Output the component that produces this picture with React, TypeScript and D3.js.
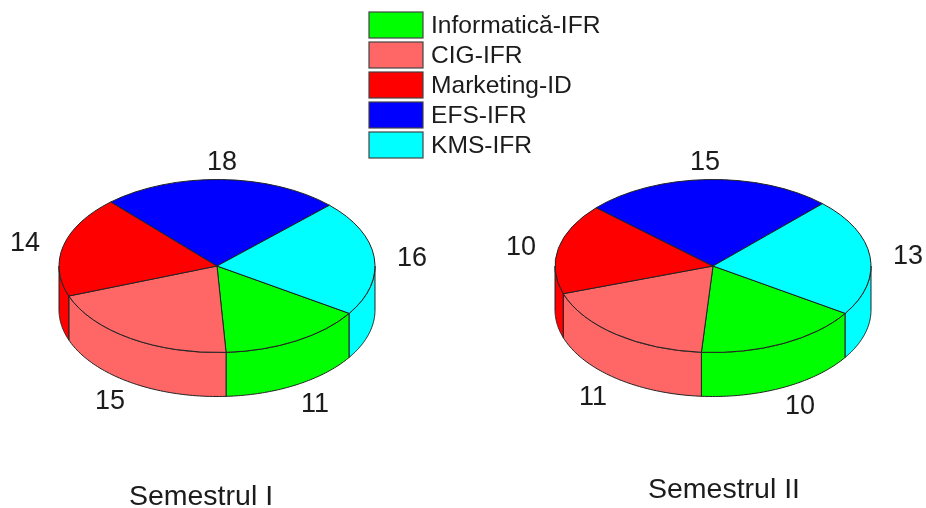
import React from "react";
import * as d3 from "d3";

const categories = ["Informatică-IFR", "CIG-IFR", "Marketing-ID", "EFS-IFR", "KMS-IFR"];
const colors = ["#00ff00", "#ff6666", "#ff0000", "#0000ff", "#00ffff"];
const valuesSem1 = [11, 15, 14, 18, 16];
const valuesSem2 = [10, 11, 10, 15, 13];
const labelPos1: [number, number][] = [[315, 402], [110, 399], [25, 241], [222, 160], [412, 256]];
const labelPos2: [number, number][] = [[800, 404], [593, 395], [521, 245], [705, 160], [908, 254]];

const RX = 158;
const RY = 86.5;
const DEPTH = 44;
const START = (123.2 * Math.PI) / 180;
const FONT = "'Liberation Sans', Arial, sans-serif";
const TEXT = "#1a1a1a";

function Pie3D({ cx, cy, values, start }: { cx: number; cy: number; values: number[]; start: number }) {
  const slices = d3.pie<number>().sort(null).startAngle(start).endAngle(start + 2 * Math.PI)(values);
  const arc = d3.arc<d3.PieArcDatum<number>>().innerRadius(0).outerRadius(RX);
  const x = d3.scaleLinear().domain([-1, 1]).range([cx - RX, cx + RX]);
  const y = d3.scaleLinear().domain([-1, 1]).range([cy - RY, cy + RY]);
  const line = d3.line<[number, number]>();

  const walls = slices.flatMap((s, i) => {
    // visible front half: d3 angle from PI/2 to 3PI/2 (mod 2PI)
    const out: React.ReactNode[] = [];
    for (const k of [0, 1]) {
      const lo = Math.PI / 2 + k * 2 * Math.PI;
      const hi = (3 * Math.PI) / 2 + k * 2 * Math.PI;
      const a0 = Math.max(s.startAngle, lo);
      const a1 = Math.min(s.endAngle, hi);
      if (a1 <= a0) continue;
      const angles = d3.range(0, 61).map((t) => a0 + ((a1 - a0) * t) / 60);
      const upper = angles.map((a) => [x(Math.sin(a)), y(-Math.cos(a))] as [number, number]);
      const lower = [...upper].reverse().map(([px, py]) => [px, py + DEPTH] as [number, number]);
      out.push(
        <path
          key={`w${i}-${k}`}
          d={line([...upper, ...lower])! + "Z"}
          fill={colors[i]}
          stroke="#222"
          strokeWidth={1}
          strokeLinejoin="round"
        />
      );
    }
    return out;
  });

  return (
    <g>
      {walls}
      <g transform={`translate(${cx},${cy}) scale(1,${RY / RX})`}>
        {slices.map((s, i) => (
          <path
            key={i}
            d={arc(s)!}
            fill={colors[i]}
            stroke="#222"
            strokeWidth={1}
            vectorEffect="non-scaling-stroke"
            strokeLinejoin="round"
          />
        ))}
      </g>
    </g>
  );
}

export default function App() {
  const legendY = d3.scaleBand<number>().domain(d3.range(categories.length)).range([10, 160]);
  return (
    <svg
      width={926}
      height={508}
      viewBox="0 0 926 508"
      style={{ position: "absolute", left: 0, top: 0, background: "#fff" }}
    >
      <defs>
        <filter id="soft" x="-2%" y="-2%" width="104%" height="104%">
          <feGaussianBlur stdDeviation="0.45" />
        </filter>
      </defs>
      <g filter="url(#soft)">
        {categories.map((c, i) => (
          <g key={c}>
            <rect
              x={369}
              y={legendY(i)! + 2}
              width={54}
              height={26}
              fill={colors[i]}
              stroke="#444"
              strokeWidth={1.2}
            />
            <text x={431} y={legendY(i)! + 23} fontFamily={FONT} fontSize={24.6} fill={TEXT}>
              {c}
            </text>
          </g>
        ))}
        <Pie3D cx={217} cy={266} values={valuesSem1} start={START} />
        <Pie3D cx={713} cy={266} values={valuesSem2} start={START} />
        {valuesSem1.map((v, i) => (
          <text key={i} x={labelPos1[i][0]} y={labelPos1[i][1]} dy="0.36em" textAnchor="middle" fontFamily={FONT} fontSize={27} fill={TEXT}>
            {v}
          </text>
        ))}
        {valuesSem2.map((v, i) => (
          <text key={i} x={labelPos2[i][0]} y={labelPos2[i][1]} dy="0.36em" textAnchor="middle" fontFamily={FONT} fontSize={27} fill={TEXT}>
            {v}
          </text>
        ))}
        <text x={201} y={505} textAnchor="middle" fontFamily={FONT} fontSize={28.5} fill={TEXT}>
          Semestrul I
        </text>
        <text x={724} y={498} textAnchor="middle" fontFamily={FONT} fontSize={28.5} fill={TEXT}>
          Semestrul II
        </text>
      </g>
    </svg>
  );
}
